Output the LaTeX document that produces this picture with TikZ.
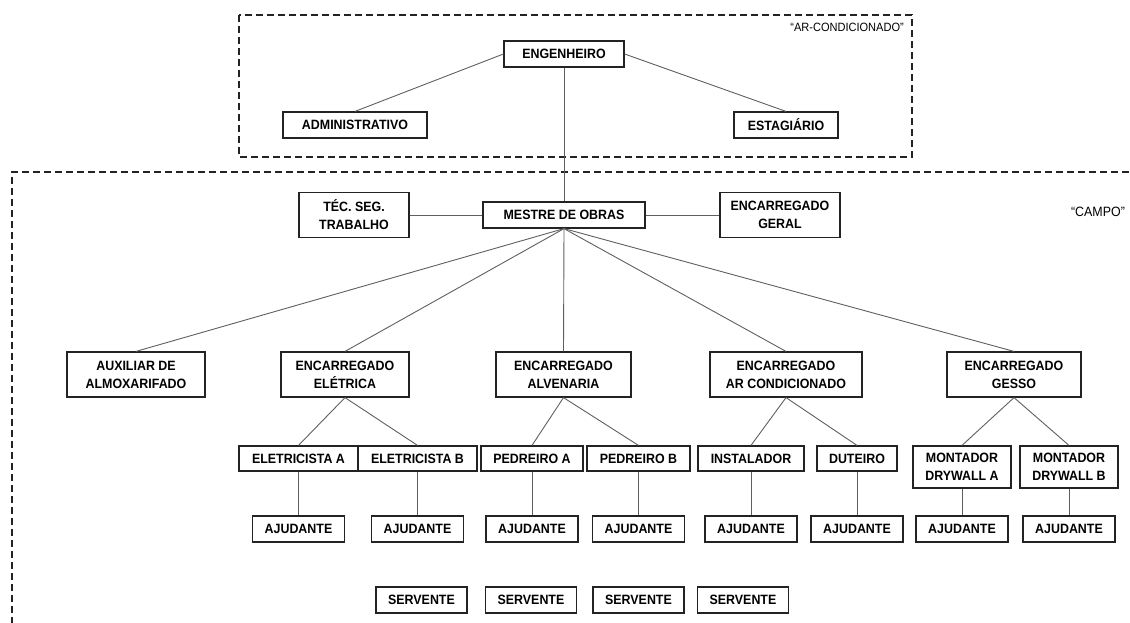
\documentclass[tikz,border=0pt]{standalone}
\usepackage{fontspec}
\setmainfont{Liberation Sans}
\newfontfamily\cargofont[FakeStretch=0.92]{Liberation Sans}
\usetikzlibrary{shadows}
\definecolor{orgline}{RGB}{95,95,95}
\definecolor{orgedge}{RGB}{35,35,35}
\tikzset{
  cargo/.style={draw=orgedge, line width=1.2pt, fill=white, align=center, inner sep=0pt,
    minimum height=26, font=\cargofont\bfseries\fontsize{13.5}{18}\selectfont,
    drop shadow={shadow xshift=0.9pt, shadow yshift=-0.9pt, fill=black!65, opacity=1}},
  cargoduplo/.style={cargo, minimum height=45},
  elo/.style={draw=orgline, line width=0.9pt},
  setor/.style={draw=orgedge, line width=1.3pt, dash pattern=on 7pt off 4pt},
  rotulo/.style={font=\cargofont\fontsize{12}{14}\selectfont, inner sep=0pt}
}

\begin{document}
\begin{tikzpicture}[x=1pt, y=-1pt]
\useasboundingbox (0,0) rectangle (1130,623);

% Office area ("ar-condicionado")
\draw[setor] (239,15) rectangle (912,157);
\node[rotulo, anchor=east] (lblar) at (904,27) {“AR-CONDICIONADO”};
\node[cargo, minimum width=120] (eng) at (564,54) {ENGENHEIRO};
\node[cargo, minimum width=144] (adm) at (355,125) {ADMINISTRATIVO};
\node[cargo, minimum width=104] (est) at (786,125) {ESTAGIÁRIO};

% Field area ("campo")
\draw[setor] (1140,172) -- (12,172) -- (12,630);
\node[rotulo, font=\cargofont\fontsize{13.5}{15}\selectfont] (lblcampo) at (1098,212) {“CAMPO”};
\node[cargoduplo, minimum width=110] (tec) at (354,215) {TÉC. SEG.\\TRABALHO};
\node[cargo, minimum width=162] (mestre) at (564,215) {MESTRE DE OBRAS};
\node[cargoduplo, minimum width=120] (geral) at (780,215) {ENCARREGADO\\GERAL};

% Foremen
\node[cargoduplo, minimum width=138] (aux) at (136,374.5) {AUXILIAR DE\\ALMOXARIFADO};
\node[cargoduplo, minimum width=128] (ele) at (345,374.5) {ENCARREGADO\\ELÉTRICA};
\node[cargoduplo, minimum width=135] (alv) at (563.5,374.5) {ENCARREGADO\\ALVENARIA};
\node[cargoduplo, minimum width=152] (arc) at (786,374.5) {ENCARREGADO\\AR CONDICIONADO};
\node[cargoduplo, minimum width=134] (ges) at (1014,374.5) {ENCARREGADO\\GESSO};

% Workers
\node[cargo, minimum width=119, minimum height=25] (ela) at (298.5,458.5) {ELETRICISTA A};
\node[cargo, minimum width=119, minimum height=25] (elb) at (417.5,458.5) {ELETRICISTA B};
\node[cargo, minimum width=102, minimum height=25] (pea) at (532,458.5) {PEDREIRO A};
\node[cargo, minimum width=103, minimum height=25] (peb) at (638.5,458.5) {PEDREIRO B};
\node[cargo, minimum width=106, minimum height=25] (ins) at (751,458.5) {INSTALADOR};
\node[cargo, minimum width=80, minimum height=25] (dut) at (857,458.5) {DUTEIRO};
\node[cargo, minimum width=98, minimum height=42] (moa) at (962,467) {MONTADOR\\DRYWALL A};
\node[cargo, minimum width=98, minimum height=42] (mob) at (1069,467) {MONTADOR\\DRYWALL B};

% Helpers under each worker
\coordinate (ajrow) at (0,529);
\foreach \n in {ela,elb,pea,peb,ins,dut,moa,mob} {
    \node[cargo, minimum width=92] (aj\n) at (\n |- ajrow) {AJUDANTE};
    \draw[elo] (\n.south) -- (aj\n.north);
}

% Servants (no link)
\foreach \i/\x in {1/421.5, 2/531, 3/638.5, 4/743} {
    \node[cargo, minimum width=91] (serv\i) at (\x,600) {SERVENTE};
}

% Links
\draw[elo] (eng.west) -- (adm.north);
\draw[elo] (eng.east) -- (est.north);
\draw[elo] (eng.south) -- (mestre.north);
\draw[elo] (tec.east) -- (mestre.west);
\draw[elo] (mestre.east) -- (geral.west);
\foreach \c in {aux,ele,alv,arc,ges} {
    \draw[elo] (mestre.south) -- (\c.north);
}
\draw[elo] (ele.south) -- (ela.north);
\draw[elo] (ele.south) -- (elb.north);
\draw[elo] (alv.south) -- (pea.north);
\draw[elo] (alv.south) -- (peb.north);
\draw[elo] (arc.south) -- (ins.north);
\draw[elo] (arc.south) -- (dut.north);
\draw[elo] (ges.south) -- (moa.north);
\draw[elo] (ges.south) -- (mob.north);
\end{tikzpicture}
\end{document}
